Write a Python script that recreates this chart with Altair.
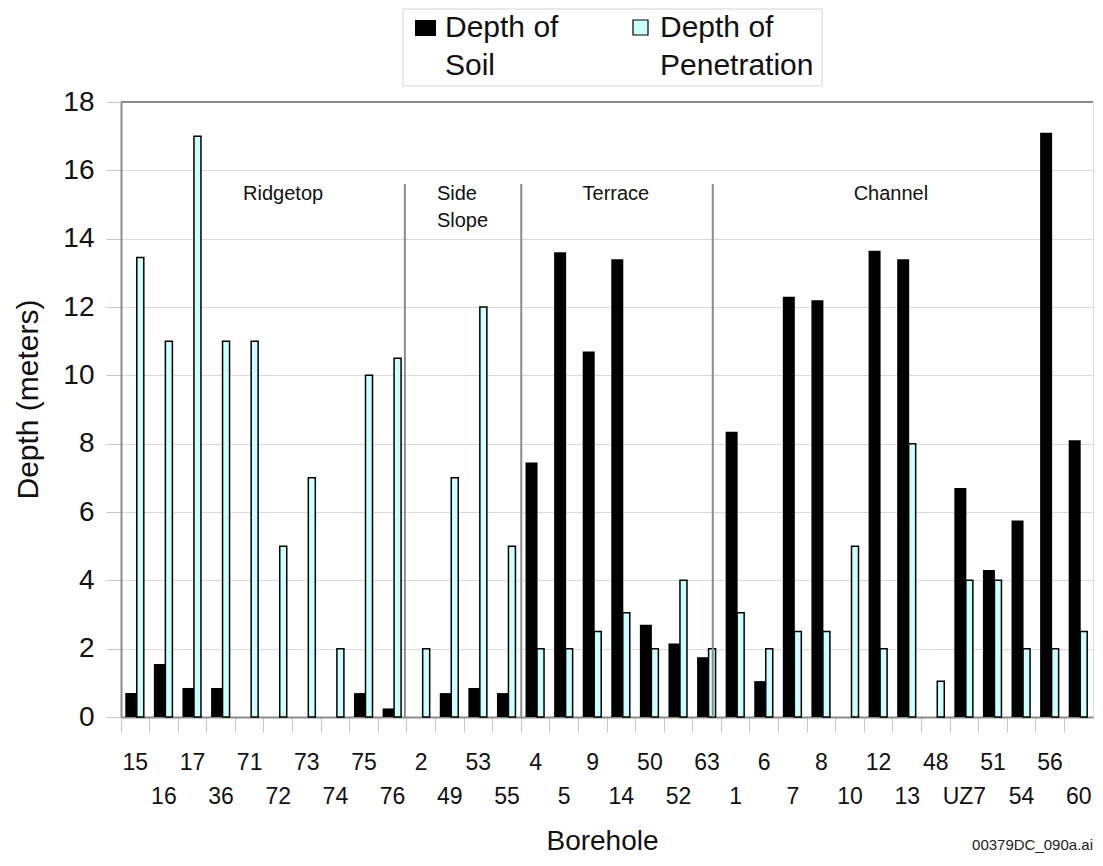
import altair as alt
import pandas as pd

boreholes = ["15", "16", "17", "36", "71", "72", "73", "74", "75", "76",
             "2", "49", "53", "55",
             "4", "5", "9", "14", "50", "52", "63",
             "1", "6", "7", "8", "10", "12", "13", "48", "UZ7", "51", "54", "56", "60"]
soil_depth = [0.7, 1.55, 0.85, 0.85, 0, 0, 0, 0, 0.7, 0.25,
              0, 0.7, 0.85, 0.7,
              7.45, 13.6, 10.7, 13.4, 2.7, 2.15, 1.75,
              8.35, 1.05, 12.3, 12.2, 0, 13.65, 13.4, 0, 6.7, 4.3, 5.75, 17.1, 8.1]
penetration_depth = [13.45, 11, 17, 11, 11, 5, 7, 2, 10, 10.5,
                     2, 7, 12, 5,
                     2, 2, 2.5, 3.05, 2, 4, 2,
                     3.05, 2, 2.5, 2.5, 5, 2, 8, 1.05, 4, 4, 2, 2, 2.5]
series_names = ["Depth of Soil", "Depth of Penetration"]
legend_labels = ["Depth of\nSoil", "Depth of\nPenetration"]
region_names = ["Ridgetop", "Side\nSlope", "Terrace", "Channel"]
region_anchor = ["72", "49", "14", "12"]
separator_after = ["76", "4", "63"]
y_ticks = list(range(0, 19, 2))

FONT = "Liberation Sans"
W, H = 972, 615

df = pd.DataFrame({
    "Borehole": boreholes * 2,
    "Series": [series_names[0]] * len(boreholes) + [series_names[1]] * len(boreholes),
    "Depth": soil_depth + penetration_depth,
})
df_lab = pd.DataFrame({"Borehole": boreholes, "row": [i % 2 for i in range(len(boreholes))]})

xscale = alt.Scale(domain=boreholes, paddingInner=0, paddingOuter=0)
x_axis = alt.Axis(labels=False, ticks=True, tickColor="#c8c8c8", tickSize=15, tickWidth=1,
                  bandPosition=0, domainColor="#8c8c8c", domainWidth=2, grid=False,
                  title="Borehole", titleFontSize=28, titleFont=FONT, titleFontWeight="normal",
                  titleColor="#111", titleX=481, titleY=132, titleBaseline="alphabetic")
y_axis = alt.Axis(values=y_ticks, grid=True, gridColor="#dadada", gridWidth=1,
                  tickColor="#c8c8c8", tickSize=15, tickWidth=1, labelPadding=12,
                  labelFontSize=28, labelFont=FONT, labelColor="#111",
                  domainColor="#8c8c8c", domainWidth=2,
                  title="Depth (meters)", titleFontSize=30, titleFont=FONT,
                  titleFontWeight="normal", titleColor="#111", titleAngle=270,
                  titleX=-93, titleY=297, titleBaseline="middle", titleAlign="center")
yscale = alt.Scale(domain=[0, 18], nice=False, zero=True)


def xenc(**kw):
    return alt.X("Borehole:N", sort=boreholes, scale=xscale, axis=x_axis, **kw)


soil = alt.Chart(df).transform_filter(alt.datum.Series == series_names[0]).mark_bar(
    color="black", width=12, xOffset=-4
).encode(
    x=xenc(),
    y=alt.Y("Depth:Q", scale=yscale, axis=y_axis),
)
pen = alt.Chart(df).transform_filter(alt.datum.Series == series_names[1]).mark_bar(
    fill="#ccffff", stroke="black", strokeWidth=1.5, width=7, xOffset=5
).encode(
    x=xenc(),
    y=alt.Y("Depth:Q", scale=yscale, axis=y_axis),
)

layers = [soil, pen]

sep_bp = [0.93, 0.0, 0.7]
for b, bp in zip(separator_after, sep_bp):
    layers.append(
        alt.Chart(pd.DataFrame({"Borehole": [b]})).mark_rule(color="#8c8c8c", strokeWidth=2).encode(
            x=xenc(bandPosition=bp),
            y=alt.value(82), y2=alt.value(H),
        )
    )

reg_bp = [0.67, 0.05, 0.31, 0.93]
reg_align = ["center", "left", "center", "center"]
for name, anc, bp, al in zip(region_names, region_anchor, reg_bp, reg_align):
    layers.append(
        alt.Chart(pd.DataFrame({"Borehole": [anc], "Region": [name]})).mark_text(
            font=FONT, fontSize=20, color="#111", align=al, baseline="middle",
            lineBreak="\n", lineHeight=27
        ).encode(
            x=xenc(bandPosition=bp),
            y=alt.value(92), text="Region:N",
        )
    )

for r, yv in [(0, 661), (1, 695)]:
    layers.append(
        alt.Chart(df_lab).transform_filter(alt.datum.row == r).mark_text(
            font=FONT, fontSize=23, color="#111", baseline="middle", align="center"
        ).encode(
            x=xenc(),
            y=alt.value(yv), text="Borehole:N",
        )
    )

one = pd.DataFrame({"k": [0]})
# frame top edge over the top gridline
layers.append(alt.Chart(one).mark_rule(color="#8c8c8c", strokeWidth=2).encode(
    x=alt.value(0), x2=alt.value(W), y=alt.value(0)))

# legend
layers.append(alt.Chart(one).mark_rect(fill="white", stroke="#d4d4d4", strokeWidth=1).encode(
    x=alt.value(282), x2=alt.value(701), y=alt.value(-93), y2=alt.value(-16)))
layers.append(alt.Chart(one).mark_rect(fill="black").encode(
    x=alt.value(294), x2=alt.value(315), y=alt.value(-82), y2=alt.value(-66)))
layers.append(alt.Chart(one).mark_rect(fill="#ccffff", stroke="black", strokeWidth=1.2).encode(
    x=alt.value(512), x2=alt.value(527), y=alt.value(-82), y2=alt.value(-67)))
for lab, xv in zip(legend_labels, [324, 539]):
    layers.append(
        alt.Chart(pd.DataFrame({"Label": [lab]})).mark_text(
            font=FONT, fontSize=30, color="#111", align="left", baseline="alphabetic",
            lineBreak="\n", lineHeight=38
        ).encode(x=alt.value(xv), y=alt.value(-65), text="Label:N")
    )

# file note
layers.append(
    alt.Chart(pd.DataFrame({"Note": ["00379DC_090a.ai"]})).mark_text(
        font=FONT, fontSize=15, color="#222", align="right", baseline="alphabetic"
    ).encode(x=alt.value(W), y=alt.value(748), text="Note:N")
)

chart = alt.layer(*layers).properties(
    width=W, height=H,
    autosize=alt.AutoSizeParams(type="none"),
    padding={"left": 113, "top": 94, "right": 2, "bottom": 141},
).configure_view(stroke="#8c8c8c", strokeWidth=2).configure(font=FONT)

chart.save("out.html", embed_options={"renderer": "svg", "actions": False})
